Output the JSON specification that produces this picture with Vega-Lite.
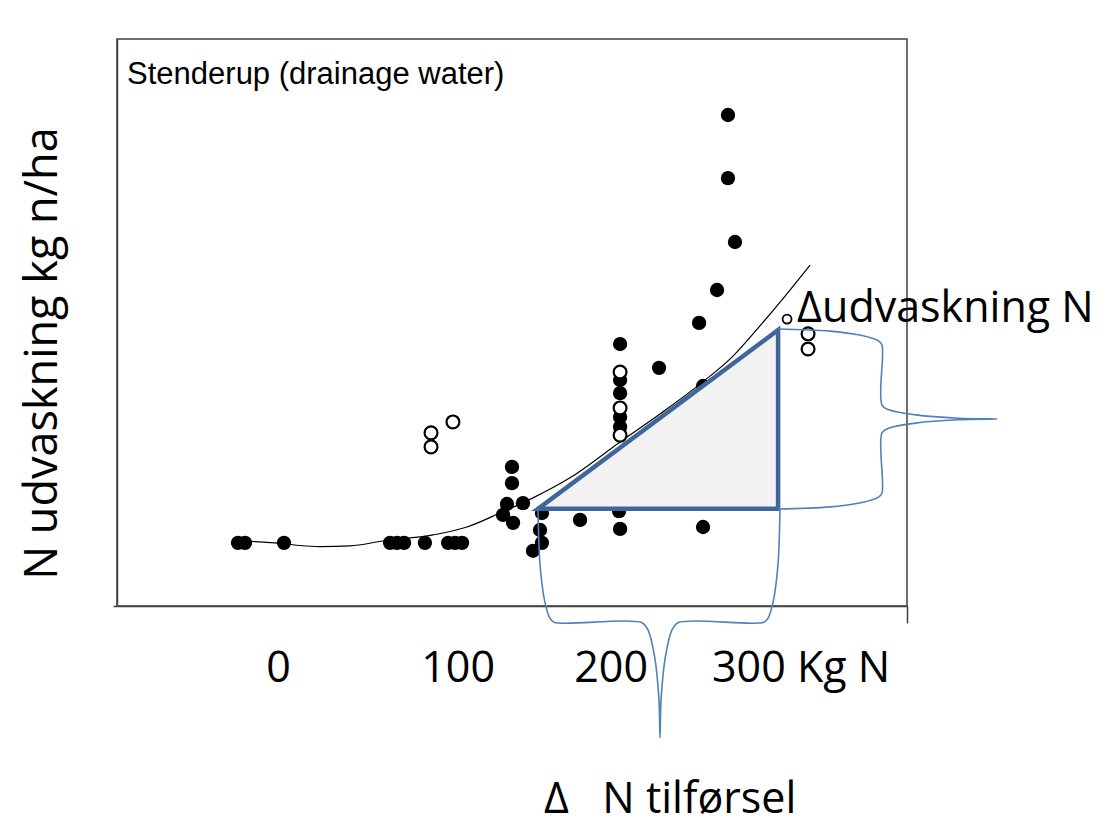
{
  "$schema": "https://vega.github.io/schema/vega-lite/v6.json",
  "width": 790,
  "height": 567,
  "autosize": "none",
  "padding": {"left": 117, "top": 39, "right": 204, "bottom": 227},
  "background": "white",
  "config": {
    "view": {"stroke": "#404040", "strokeWidth": 1.5},
    "axis": {"grid": false}
  },
  "encoding": {
    "x": {"field": "x", "type": "quantitative",
          "scale": {"domain": [-90, 350], "nice": false, "zero": false},
          "axis": {"values": [350], "tickSize": 17, "labels": false, "title": null,
                   "domainColor": "#404040", "tickColor": "#404040", "domainWidth": 1.5, "tickWidth": 1.5}},
    "y": {"field": "y", "type": "quantitative",
          "scale": {"domain": [0, 150], "nice": false, "zero": false},
          "axis": {"values": [0], "tickSize": 4, "labels": false,
                   "title": "N udvaskning kg n/ha",
                   "titleFont": "Open Sans", "titleFontSize": 45, "titleFontWeight": "normal",
                   "titleColor": "black", "titlePadding": 47, "titleY": 314,
                   "domainColor": "#404040", "tickColor": "#404040", "domainWidth": 1.5, "tickWidth": 1.5}}
  },
  "layer": [
    {
      "data": {"values": [
        {"x": -21.5, "y": 17.2}, {"x": 3.0, "y": 16.5}, {"x": 11.9, "y": 16.0}, {"x": 23.1, "y": 15.7},
        {"x": 39.8, "y": 15.9}, {"x": 58.2, "y": 17.2}, {"x": 86.0, "y": 18.8}, {"x": 104.9, "y": 20.9},
        {"x": 123.3, "y": 24.6}, {"x": 141.7, "y": 28.6}, {"x": 162.3, "y": 33.9}, {"x": 190.2, "y": 43.4},
        {"x": 212.4, "y": 50.8}, {"x": 234.7, "y": 58.7}, {"x": 253.1, "y": 66.1}, {"x": 268.1, "y": 74.1},
        {"x": 282.1, "y": 82.0}, {"x": 296.0, "y": 90.2}
      ]},
      "mark": {"type": "line", "color": "black", "strokeWidth": 1.2, "interpolate": "monotone"}
    },
    {
      "data": {"values": [
        {"x": -22.6, "y": 16.7}, {"x": -18.7, "y": 16.7}, {"x": 3.0, "y": 16.7}, {"x": 62.1, "y": 16.7},
        {"x": 66.0, "y": 16.7}, {"x": 69.9, "y": 16.7}, {"x": 81.5, "y": 16.7}, {"x": 94.4, "y": 16.7},
        {"x": 98.3, "y": 16.7}, {"x": 102.2, "y": 16.7}, {"x": 130.0, "y": 36.8}, {"x": 130.0, "y": 32.5},
        {"x": 127.2, "y": 27.0}, {"x": 136.1, "y": 27.2}, {"x": 125.0, "y": 24.1}, {"x": 130.6, "y": 22.0},
        {"x": 146.7, "y": 24.6}, {"x": 145.6, "y": 20.1}, {"x": 146.7, "y": 16.7}, {"x": 141.7, "y": 14.6},
        {"x": 167.9, "y": 22.8}, {"x": 189.6, "y": 25.1}, {"x": 190.2, "y": 20.4}, {"x": 236.4, "y": 20.9},
        {"x": 190.2, "y": 69.3}, {"x": 190.2, "y": 59.8}, {"x": 190.2, "y": 56.3}, {"x": 190.2, "y": 50.0},
        {"x": 190.2, "y": 47.4}, {"x": 211.9, "y": 63.0}, {"x": 234.2, "y": 74.9}, {"x": 244.2, "y": 83.6},
        {"x": 254.2, "y": 96.3}, {"x": 250.3, "y": 113.2}, {"x": 250.3, "y": 129.9}, {"x": 236.4, "y": 58.2}
      ]},
      "mark": {"type": "point", "shape": "circle", "filled": true, "color": "black", "opacity": 1, "size": 205}
    },
    {
      "data": {"values": [
        {"x": 84.9, "y": 45.8}, {"x": 84.9, "y": 42.1}, {"x": 97.1, "y": 48.7},
        {"x": 190.2, "y": 61.9}, {"x": 190.2, "y": 52.4}, {"x": 190.2, "y": 45.2},
        {"x": 294.9, "y": 72.0}, {"x": 294.9, "y": 68.0}
      ]},
      "mark": {"type": "point", "shape": "circle", "filled": true, "fill": "white", "stroke": "black", "strokeWidth": 2.2, "opacity": 1, "size": 165}
    },
    {
      "data": {"values": [{"x": 283.2, "y": 75.9}]},
      "mark": {"type": "point", "shape": "circle", "filled": true, "fill": "white", "stroke": "black", "strokeWidth": 1.8, "opacity": 1, "size": 80}
    },
    {
      "data": {"values": [
        {"x": 144.5, "y": 25.7, "base": 25.7},
        {"x": 278.2, "y": 73.0, "base": 25.7}
      ]},
      "mark": {"type": "area", "fill": "#f2f2f2", "stroke": "#41669b", "strokeWidth": 4.5, "opacity": 1, "strokeJoin": "miter"},
      "encoding": {"y2": {"field": "base"}}
    },
    {
      "data": {"values": [
        {"brace": "b", "order": 1, "x": 144.48, "y": 25.66},
        {"brace": "b", "order": 2, "x": 145.65, "y": 10.71},
        {"brace": "b", "order": 3, "x": 148.27, "y": 1.16},
        {"brace": "b", "order": 4, "x": 151.11, "y": -3.20},
        {"brace": "b", "order": 5, "x": 153.39, "y": -4.30},
        {"brace": "b", "order": 6, "x": 202.24, "y": -4.37},
        {"brace": "b", "order": 7, "x": 205.75, "y": -6.32},
        {"brace": "b", "order": 8, "x": 209.42, "y": -13.41},
        {"brace": "b", "order": 9, "x": 211.82, "y": -24.52},
        {"brace": "b", "order": 10, "x": 212.43, "y": -34.92},
        {"brace": "b", "order": 11, "x": 213.04, "y": -24.52},
        {"brace": "b", "order": 12, "x": 215.44, "y": -13.41},
        {"brace": "b", "order": 13, "x": 219.11, "y": -6.32},
        {"brace": "b", "order": 14, "x": 222.62, "y": -4.37},
        {"brace": "b", "order": 15, "x": 270.35, "y": -4.30},
        {"brace": "b", "order": 16, "x": 272.64, "y": -3.20},
        {"brace": "b", "order": 17, "x": 275.48, "y": 1.16},
        {"brace": "b", "order": 18, "x": 278.10, "y": 10.71},
        {"brace": "b", "order": 19, "x": 279.26, "y": 25.66},
        {"brace": "r", "order": 1, "x": 278.15, "y": 73.28},
        {"brace": "r", "order": 2, "x": 307.11, "y": 72.72},
        {"brace": "r", "order": 3, "x": 325.60, "y": 71.48},
        {"brace": "r", "order": 4, "x": 334.13, "y": 70.13},
        {"brace": "r", "order": 5, "x": 336.07, "y": 69.05},
        {"brace": "r", "order": 6, "x": 336.07, "y": 53.17},
        {"brace": "r", "order": 7, "x": 339.92, "y": 51.90},
        {"brace": "r", "order": 8, "x": 354.84, "y": 50.56},
        {"brace": "r", "order": 9, "x": 378.24, "y": 49.68},
        {"brace": "r", "order": 10, "x": 400.12, "y": 49.47},
        {"brace": "r", "order": 11, "x": 378.24, "y": 49.26},
        {"brace": "r", "order": 12, "x": 354.84, "y": 48.39},
        {"brace": "r", "order": 13, "x": 339.92, "y": 47.04},
        {"brace": "r", "order": 14, "x": 336.07, "y": 45.77},
        {"brace": "r", "order": 15, "x": 336.07, "y": 29.89},
        {"brace": "r", "order": 16, "x": 334.13, "y": 28.81},
        {"brace": "r", "order": 17, "x": 325.60, "y": 27.46},
        {"brace": "r", "order": 18, "x": 307.11, "y": 26.22},
        {"brace": "r", "order": 19, "x": 278.15, "y": 25.66}
      ]},
      "mark": {"type": "line", "color": "#4f81bd", "strokeWidth": 1.6, "interpolate": "catmull-rom"},
      "encoding": {"detail": {"field": "brace"}, "order": {"field": "order", "type": "quantitative"}}
    },
    {
      "data": {"values": [
        {"label": "0", "x": 0, "y": -20.1},
        {"label": "100", "x": 100, "y": -20.1},
        {"label": "200", "x": 185.2, "y": -20.1}
      ]},
      "mark": {"type": "text", "font": "Open Sans", "fontSize": 43, "align": "center", "baseline": "alphabetic", "color": "black"},
      "encoding": {"text": {"field": "label"}}
    },
    {
      "data": {"values": [
        {"label": "300 Kg N", "x": 241.4, "y": -20.1},
        {"label": "Δudvaskning N", "x": 288.8, "y": 75.1},
        {"label": "Δ\u00a0\u00a0\u00a0N tilførsel", "x": 147.8, "y": -54.8}
      ]},
      "mark": {"type": "text", "font": "Open Sans", "fontSize": 43, "align": "left", "baseline": "alphabetic", "color": "black"},
      "encoding": {"text": {"field": "label"}}
    },
    {
      "data": {"values": [
        {"label": "Stenderup (drainage water)", "x": -84.4, "y": 138.0}
      ]},
      "mark": {"type": "text", "font": "Liberation Sans", "fontSize": 31, "align": "left", "baseline": "alphabetic", "color": "black"},
      "encoding": {"text": {"field": "label"}}
    }
  ]
}
